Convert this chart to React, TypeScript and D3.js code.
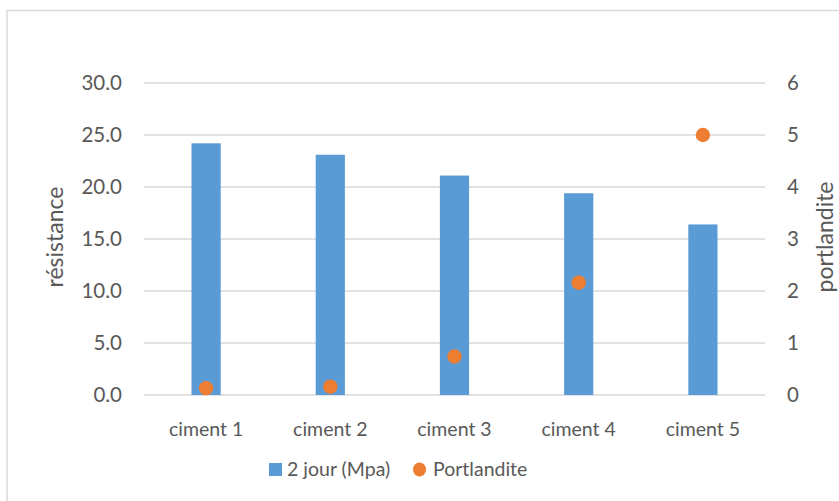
import React from "react";
import * as d3 from "d3";

const categories = ["ciment 1", "ciment 2", "ciment 3", "ciment 4", "ciment 5"];
const resistance = [24.2, 23.1, 21.1, 19.4, 16.4];
const portlandite = [0.13, 0.16, 0.74, 2.16, 5.0];
const leftTicks = [0, 5, 10, 15, 20, 25, 30];
const rightTicks = [0, 1, 2, 3, 4, 5, 6];

const W = 839;
const H = 501;
const FONT = "Lato, 'Open Sans', sans-serif";
const TEXT = "#595959";
const GRID = "#d9d9d9";
const BLUE = "#5b9bd5";
const ORANGE = "#ed7d31";

export default function App() {
  const x = d3.scaleBand<string>().domain(categories).range([144, 765]).paddingInner(0).paddingOuter(0);
  const yL = d3.scaleLinear().domain([0, 30]).range([395, 83]);
  const yR = d3.scaleLinear().domain([0, 6]).range([395, 83]);
  const barW = x.bandwidth() * 0.235;

  return (
    <svg width={W} height={H} style={{ position: "absolute", left: 0, top: 0, display: "block" }}>
      <rect x={0} y={0} width={W} height={H} fill="#fff" />
      <path d={`M7,${H} V10.5 H${W}`} fill="none" stroke={GRID} strokeWidth={1.5} />
      {leftTicks.map((t) => (
        <g key={t}>
          <line x1={144} x2={765} y1={yL(t)} y2={yL(t)} stroke={GRID} strokeWidth={1.3} />
          <text x={122} y={yL(t)} dy="0.35em" textAnchor="end" fill={TEXT} fontFamily={FONT} fontSize={20.5}>
            {d3.format(".1f")(t)}
          </text>
        </g>
      ))}
      {rightTicks.map((t) => (
        <text key={t} x={787} y={yR(t)} dy="0.35em" textAnchor="start" fill={TEXT} fontFamily={FONT} fontSize={20.5}>
          {t}
        </text>
      ))}
      {categories.map((c, i) => (
        <rect
          key={c}
          x={x(c)! + x.bandwidth() / 2 - barW / 2}
          y={yL(resistance[i])}
          width={barW}
          height={yL(0) - yL(resistance[i])}
          fill={BLUE}
        />
      ))}
      {categories.map((c, i) => (
        <circle key={c} cx={x(c)! + x.bandwidth() / 2} cy={yR(portlandite[i])} r={7.2} fill={ORANGE} />
      ))}
      {categories.map((c) => (
        <text key={c} x={x(c)! + x.bandwidth() / 2} y={429} dy="0.35em" textAnchor="middle" fill={TEXT} fontFamily={FONT} fontSize={19.5}>
          {c}
        </text>
      ))}
      <text transform="translate(55,237) rotate(-90)" dy="0.35em" textAnchor="middle" fill={TEXT} fontFamily={FONT} fontSize={23}>
        résistance
      </text>
      <text transform="translate(825,237) rotate(-90)" dy="0.35em" textAnchor="middle" fill={TEXT} fontFamily={FONT} fontSize={23}>
        portlandite
      </text>
      <rect x={269} y={463} width={13} height={13} fill={BLUE} />
      <text x={287} y={469.5} dy="0.35em" fill={TEXT} fontFamily={FONT} fontSize={19.5}>
        2 jour (Mpa)
      </text>
      <ellipse cx={419.5} cy={469.5} rx={6.5} ry={7} fill={ORANGE} />
      <text x={433} y={469.5} dy="0.35em" fill={TEXT} fontFamily={FONT} fontSize={19.5}>
        Portlandite
      </text>
    </svg>
  );
}
